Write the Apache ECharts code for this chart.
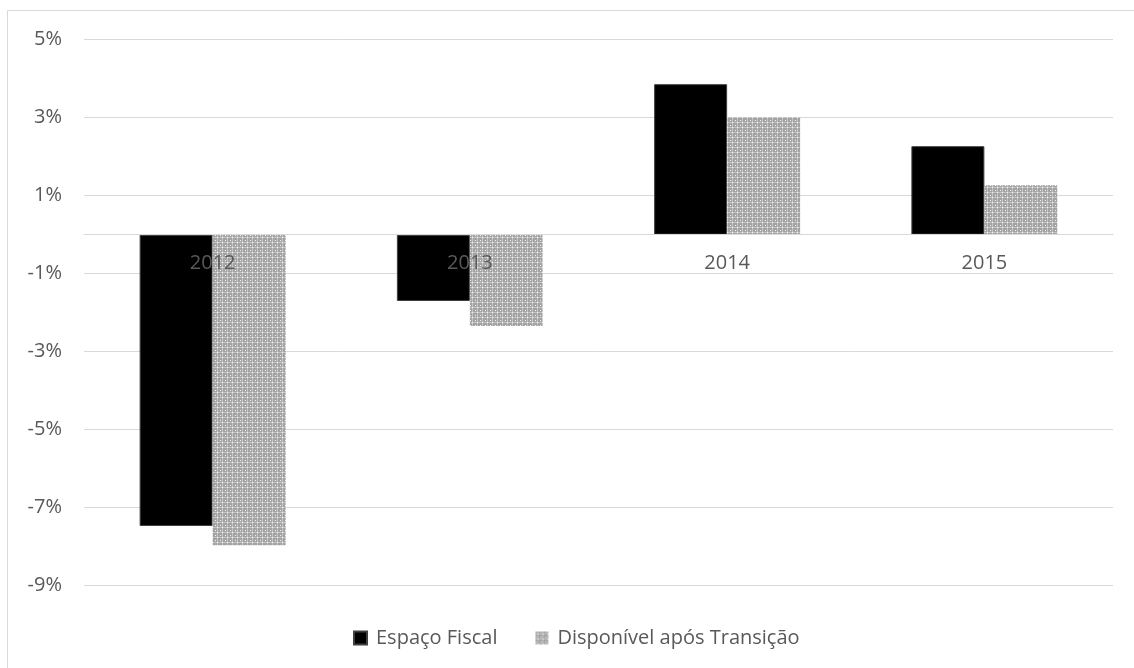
<!DOCTYPE html>
<html>
<head>
<meta charset="utf-8">
<script src="https://cdn.jsdelivr.net/npm/echarts@6/dist/echarts.min.js"></script>
<style>
  html, body { margin: 0; padding: 0; background: #ffffff; }
  #chart { width: 1134px; height: 668px; }
</style>
</head>
<body>
<div id="chart"></div>
<script>
// Fiscal space by year (% values)
const years = ['2012', '2013', '2014', '2015'];
const espacoFiscal = [-7.47, -1.70, 3.86, 2.27];
const disponivelAposTransicao = [-7.96, -2.34, 3.02, 1.27];
const seriesNames = ['Espaço Fiscal', 'Disponível após Transição'];
const yTicks = { min: -9, max: 5, step: 2 };

// Small dotted-grid fill for the second series
function makeHatch() {
  const c = document.createElement('canvas');
  c.width = 5; c.height = 5;
  const g = c.getContext('2d');
  g.fillStyle = '#a3a3a3';
  g.fillRect(0, 0, 5, 5);
  g.fillStyle = '#c4c4c4';
  g.fillRect(0, 2, 5, 1);
  g.fillRect(2, 0, 1, 5);
  g.fillStyle = '#f4f4f4';
  g.fillRect(0, 0, 1, 1);
  g.fillRect(2, 2, 1, 1);
  return c;
}
const hatch = { image: makeHatch(), repeat: 'repeat' };

const FONT = '"Open Sans", "Noto Sans", sans-serif';
const grid = { left: 84, right: 21, top: 39.7, bottom: 82.3 };
const plotHeight = 668 - grid.top - grid.bottom;
// lift the category labels from the grid bottom up to the zero line
const zeroOffset = -(0 - yTicks.min) / (yTicks.max - yTicks.min) * plotHeight;

const chart = echarts.init(document.getElementById('chart'), null, { renderer: 'canvas' });

chart.setOption({
  animation: false,
  backgroundColor: '#ffffff',
  graphic: [{
    type: 'rect',
    shape: { x: 7.5, y: 10.5, width: 1200, height: 700 },
    style: { fill: 'none', stroke: '#d9d9d9', lineWidth: 1 },
    silent: true
  }],
  grid: Object.assign({ containLabel: false }, grid),
  legend: {
    top: 623,
    left: 348,
    itemWidth: 13,
    itemHeight: 13,
    itemGap: 38,
    icon: 'rect',
    textStyle: { color: '#595959', fontSize: 20, fontFamily: FONT, padding: [0, 0, 0, 4] },
    data: seriesNames
  },
  xAxis: {
    type: 'category',
    data: years,
    z: 5,
    position: 'bottom',
    offset: zeroOffset,
    axisLine: { onZero: false, lineStyle: { color: '#d9d9d9', width: 1 } },
    axisTick: { show: false },
    axisLabel: { color: '#595959', fontSize: 20, fontFamily: FONT, margin: 19 },
    splitLine: { show: false }
  },
  yAxis: {
    type: 'value',
    min: yTicks.min,
    max: yTicks.max,
    interval: yTicks.step,
    axisLine: { show: false },
    axisTick: { show: false },
    axisLabel: { color: '#595959', fontSize: 20, fontFamily: FONT, margin: 22,
      formatter: v => v + '%' },
    splitLine: { lineStyle: { color: '#d9d9d9', width: 1 } }
  },
  series: [
    {
      name: seriesNames[0],
      type: 'bar',
      data: espacoFiscal,
      barWidth: 73,
      barGap: '0%',
      itemStyle: { color: '#000000', borderColor: '#404040', borderWidth: 1 }
    },
    {
      name: seriesNames[1],
      type: 'bar',
      data: disponivelAposTransicao,
      barWidth: 73,
      barGap: '0%',
      itemStyle: { color: hatch }
    }
  ]
});
</script>
</body>
</html>
